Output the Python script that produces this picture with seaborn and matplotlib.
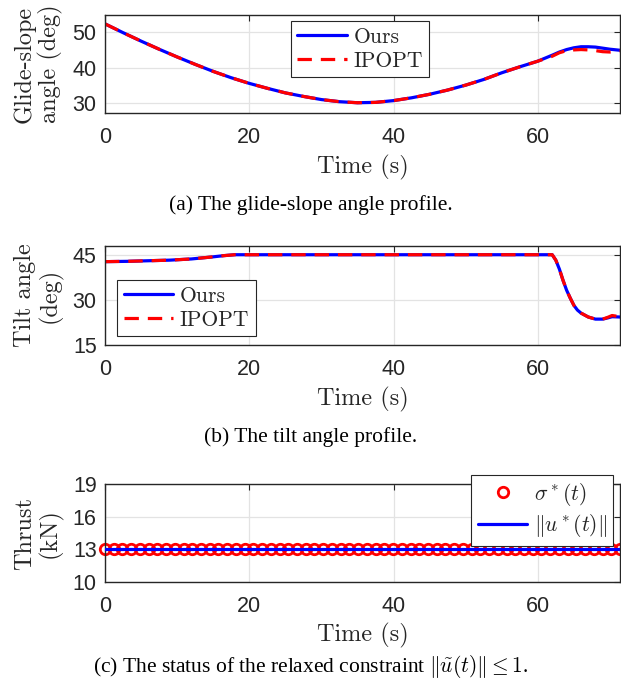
import numpy as np
import pandas as pd
import matplotlib
matplotlib.use("Agg")
import matplotlib.pyplot as plt
import seaborn as sns

# (a) glide-slope angle (deg) vs time (s)
t_glide = [0, 2.5, 5, 7.5, 10, 12.5, 15, 17.5, 20, 22.5, 25, 27.5, 30, 32.5, 35,
           37.5, 40, 42.5, 45, 47.5, 50, 52.5, 55, 57.5, 60, 62, 63, 64, 65, 66,
           67, 68, 69, 70, 71.4]
glide_ours = [52.4, 49.9, 47.5, 45.2, 43.0, 40.9, 38.9, 37.1, 35.5, 34.1, 32.8,
              31.8, 30.9, 30.3, 30.0, 30.1, 30.6, 31.4, 32.4, 33.6, 35.0, 36.6,
              38.5, 40.2, 41.8, 43.5, 44.4, 45.1, 45.6, 45.9, 45.9, 45.8, 45.5,
              45.2, 44.9]
glide_ipopt = [52.4, 49.9, 47.5, 45.2, 43.0, 40.9, 38.9, 37.1, 35.5, 34.1, 32.8,
               31.8, 30.9, 30.3, 30.0, 30.1, 30.6, 31.4, 32.4, 33.6, 35.0, 36.6,
               38.5, 40.2, 41.8, 43.2, 44.2, 44.8, 45.0, 45.1, 45.0, 44.8, 44.5,
               44.4, 44.7]

# (b) tilt angle (deg) vs time (s)
t_tilt = [0, 3, 6, 9, 12, 15, 16.5, 18, 40, 62, 62.5, 63, 63.5, 64, 64.5, 65,
          65.5, 66, 67, 68, 69, 69.7, 70.3, 71.4]
tilt_ours = [42.7, 42.8, 43.0, 43.2, 43.6, 44.3, 44.7, 45.0, 45.0, 45.0, 43.2,
             40.2, 36.5, 33.2, 30.6, 28.2, 26.6, 25.6, 24.3, 23.6, 23.6, 24.0,
             24.4, 24.3]
tilt_ipopt = [42.7, 42.8, 43.0, 43.2, 43.6, 44.3, 44.7, 45.0, 45.0, 45.0, 43.2,
              40.2, 36.5, 33.2, 30.6, 28.2, 26.6, 25.6, 24.3, 23.6, 23.6, 24.2,
              24.8, 24.4]

# (c) thrust (kN)
t_thrust = np.linspace(0, 71.4, 60)
sigma_star = [13.0] * 60
u_star_norm = [13.0] * 60

sns.set_style("whitegrid")
plt.rcParams["mathtext.fontset"] = "cm"
plt.rcParams["font.family"] = ["Liberation Sans", "DejaVu Sans"]

W, H = 621, 688
fig = plt.figure(figsize=(W / 100, H / 100), dpi=100)
left, width = 105 / W, 515 / W
ax1 = fig.add_axes([left, 1 - 113.3 / H, width, 98.6 / H])
ax2 = fig.add_axes([left, 1 - 345 / H, width, 99.3 / H])
ax3 = fig.add_axes([left, 1 - 581.7 / H, width, 97.4 / H])

dark = "#262626"
label_font = dict(family="cmr10", size=17.5, color=dark)
legend_prop = {"family": "cmr10", "size": 15.5}

df_glide = pd.DataFrame({"t": t_glide, "ours": glide_ours, "ipopt": glide_ipopt})
sns.lineplot(data=df_glide, x="t", y="ours", ax=ax1, color="blue", lw=2.3, label="Ours")
sns.lineplot(data=df_glide, x="t", y="ipopt", ax=ax1, color="red", lw=2.3,
             linestyle=(0, (4.5, 2.8)), label="IPOPT")

df_tilt = pd.DataFrame({"t": t_tilt, "ours": tilt_ours, "ipopt": tilt_ipopt})
sns.lineplot(data=df_tilt, x="t", y="ours", ax=ax2, color="blue", lw=2.3, label="Ours")
sns.lineplot(data=df_tilt, x="t", y="ipopt", ax=ax2, color="red", lw=2.3,
             linestyle=(0, (4.5, 2.8)), label="IPOPT")

df_thrust = pd.DataFrame({"t": t_thrust, "sigma": sigma_star, "u": u_star_norm})
sns.lineplot(data=df_thrust, x="t", y="sigma", ax=ax3, color="red", marker="o",
             linestyle="none", markerfacecolor="none", markeredgecolor="red",
             markeredgewidth=2, markersize=7.5, clip_on=False, label=r"$\sigma^*(t)$")
sns.lineplot(data=df_thrust, x="t", y="u", ax=ax3, color="blue", lw=2.3,
             label=r"$\|u^*(t)\|$", zorder=5)

panels = [
    (ax1, (27, 55), [30, 40, 50], "Glide-slope\nangle (deg)"),
    (ax2, (15, 48), [15, 30, 45], "Tilt angle\n(deg)"),
    (ax3, (10, 19), [10, 13, 16, 19], "Thrust\n(kN)"),
]
for ax, ylim, yticks, ylab in panels:
    ax.set_xlim(0, 71.4)
    ax.set_ylim(*ylim)
    ax.set_xticks([0, 20, 40, 60])
    ax.set_yticks(yticks)
    ax.grid(True, color="#e3e3e3", lw=0.9)
    for s in ax.spines.values():
        s.set_color(dark)
        s.set_linewidth(1.0)
        s.set_visible(True)
    ax.tick_params(axis="both", direction="in", length=4, width=0.8, color=dark,
                   labelsize=15.5, labelcolor=dark, top=True, right=True)
    ax.tick_params(axis="x", pad=10)
    ax.tick_params(axis="y", pad=6)
    ax.set_xlabel("Time (s)", fontdict=label_font)
    ax.xaxis.set_label_coords(0.5, -0.42)
    ax.set_ylabel(ylab, fontdict=label_font, linespacing=1.1)
    ax.yaxis.set_label_coords(-0.082, 0.5)

leg_kw = dict(frameon=True, fancybox=False, framealpha=1, edgecolor=dark,
              borderaxespad=0, handlelength=2.3, handletextpad=0.3,
              borderpad=0.3, labelspacing=0.2)
l1 = ax1.legend(loc="upper left", bbox_to_anchor=(0.361, 0.936), prop=legend_prop, **leg_kw)
l2 = ax2.legend(loc="lower left", bbox_to_anchor=(0.024, 0.09), prop=legend_prop, **leg_kw)
l3 = ax3.legend(loc="upper right", bbox_to_anchor=(0.987, 1.10), prop=legend_prop, **leg_kw)
for leg in (l1, l2, l3):
    leg.get_frame().set_linewidth(0.8)
    leg.set_zorder(10)

cap_font = dict(family="Liberation Serif", size=15.5, color="black", ha="center", va="center")
fig.text(0.5, 1 - 205 / H, "(a) The glide-slope angle profile.", **cap_font)
fig.text(0.5, 1 - 437 / H, "(b) The tilt angle profile.", **cap_font)
fig.text(0.5, 1 - 667 / H, r"(c) The status of the relaxed constraint $\|\tilde{u}(t)\| \leq 1$.", **cap_font)

fig.savefig("out.png", dpi=100)
